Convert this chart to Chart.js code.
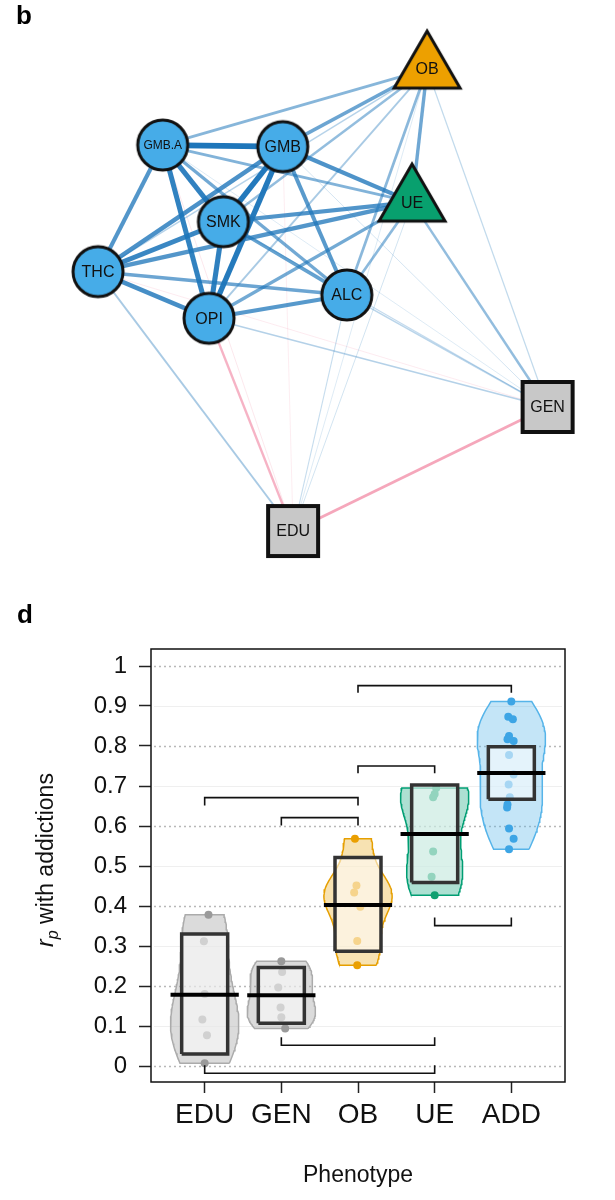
<!DOCTYPE html>
<html>
<head>
<meta charset="utf-8">
<title>Addiction network and correlations</title>
<script src="https://cdn.jsdelivr.net/npm/chart.js@4.4.1/dist/chart.umd.min.js"></script>
<style>
  body { margin: 0; background: #fff; font-family: "Liberation Sans", Arial, sans-serif; }
  #page { position: relative; width: 615px; height: 1200px; overflow: hidden; }
  canvas { position: absolute; left: 0; }
  #netChart { top: 0; }
  #boxChart { top: 580px; }
  .panel { position: absolute; font-weight: bold; font-size: 26px; line-height: 1; }
</style>
</head>
<body>
<div id="page">
  <canvas id="netChart" width="615" height="580"></canvas>
  <canvas id="boxChart" width="615" height="620"></canvas>
  <div class="panel" style="left:16px; top:2px">b</div>
  <div class="panel" style="left:17px; top:601px">d</div>
</div>
<script>
// ---- panel b: network (layout coordinates, -1..1) ----
const nodeNames = ["GMB.A", "GMB", "SMK", "THC", "OPI", "ALC", "OB", "UE", "GEN", "EDU"];
const nodeX = [-0.712, -0.178, -0.442, -1.000, -0.506, 0.107, 0.464, 0.397, 1.000, -0.132];
const nodeY = [0.671, 0.664, 0.339, 0.123, -0.079, 0.022, 1.000, 0.424, -0.463, -1.000];
const nodeGroup = ["ADD", "ADD", "ADD", "ADD", "ADD", "ADD", "OB", "UE", "GEN", "EDU"];

const edgeFrom = ["GMB.A", "GMB", "GMB", "SMK", "GMB.A", "GMB.A", "SMK", "THC", "GMB", "GMB.A",
  "OPI", "GMB", "SMK", "THC", "GMB.A",
  "GMB", "SMK", "THC", "OPI", "GMB.A", "ALC",
  "GMB", "GMB.A", "ALC", "SMK", "OPI", "THC", "OB",
  "UE", "OB", "OPI", "ALC", "SMK", "GMB", "GMB.A", "THC",
  "EDU", "OPI", "THC", "ALC", "GMB.A", "GMB", "UE", "OB"];
const edgeTo = ["GMB", "SMK", "OPI", "OPI", "SMK", "OPI", "THC", "OPI", "THC", "THC",
  "ALC", "ALC", "ALC", "ALC", "ALC",
  "UE", "UE", "UE", "UE", "UE", "UE",
  "OB", "OB", "OB", "OB", "OB", "OB", "UE",
  "GEN", "GEN", "GEN", "GEN", "GEN", "GEN", "GEN", "GEN",
  "GEN", "EDU", "EDU", "EDU", "EDU", "EDU", "EDU", "EDU"];
const edgeWeight = [0.911, 0.873, 0.867, 0.825, 0.817, 0.8125, 0.7775, 0.729, 0.704, 0.672,
  0.654, 0.646, 0.594, 0.568, 0.542,
  0.695, 0.68, 0.67, 0.535, 0.473, 0.427,
  0.568, 0.45, 0.435, 0.40, 0.31, 0.25, 0.55,
  0.40, 0.20, 0.26, 0.235, 0.195, 0.145, 0.12, -0.092,
  -0.45, -0.378, 0.31, 0.18, -0.115, -0.077, 0.15, 0.12];

// ---- panel d: correlations with addictions ----
const groups = ["EDU", "GEN", "OB", "UE", "ADD"];
const valuesEDU = [0.378, 0.312, 0.180, 0.116, 0.077, 0.007];
const valuesGEN = [0.262, 0.235, 0.196, 0.146, 0.122, 0.094];
const valuesOB = [0.568, 0.451, 0.434, 0.398, 0.3125, 0.252];
const valuesUE = [0.695, 0.680, 0.672, 0.536, 0.473, 0.427];
const valuesADD = [0.911, 0.873, 0.867, 0.825, 0.817, 0.8125, 0.7775, 0.729, 0.704, 0.672, 0.654, 0.646, 0.594, 0.568, 0.542];
const jitterEDU = [0.05, -0.01, 0.0, -0.03, 0.03, 0.0];
const jitterGEN = [0.0, 0.01, -0.04, -0.01, 0.0, 0.05];
const jitterOB = [-0.04, -0.02, -0.05, 0.03, -0.01, -0.01];
const jitterUE = [0.02, 0.0, -0.02, -0.02, -0.04, 0.0];
const jitterADD = [0.0, -0.04, 0.02, -0.03, -0.05, 0.03, -0.03, 0.03, -0.035, -0.02, -0.05, -0.055, -0.03, 0.03, -0.03];
const boxLow = [0.030, 0.107, 0.287, 0.459, 0.667];
const boxMid = [0.178, 0.177, 0.4025, 0.580, 0.7325];
const boxHigh = [0.330, 0.246, 0.521, 0.7025, 0.798];
const bracketLeft = [3, 3, 1, 2, 4, 2, 1];
const bracketRight = [5, 4, 3, 3, 5, 4, 4];
const bracketY = [0.951, 0.750, 0.671, 0.621, 0.351, 0.052, -0.018];
const bracketTip = [0.933, 0.732, 0.651, 0.601, 0.371, 0.072, 0.002];
const yTicks = [0, 0.1, 0.2, 0.3, 0.4, 0.5, 0.6, 0.7, 0.8, 0.9, 1];
const yTickLabels = ["0", "0.1", "0.2", "0.3", "0.4", "0.5", "0.6", "0.7", "0.8", "0.9", "1"];

const groupValues = [valuesEDU, valuesGEN, valuesOB, valuesUE, valuesADD];
const groupJitter = [jitterEDU, jitterGEN, jitterOB, jitterUE, jitterADD];

const FONT = '"Liberation Sans", Arial, sans-serif';
Chart.defaults.font.family = FONT;

// ---------- network ----------
const nodeFill = { ADD: "#46ACE8", OB: "#EDA000", UE: "#08A06E", GEN: "#C8C8C8", EDU: "#C8C8C8" };

function nodeCanvas(group) {
  const c = document.createElement("canvas");
  // size first: resizing a canvas resets its context state
  if (group === "ADD") { c.width = 58; c.height = 58; }
  else if (group === "OB" || group === "UE") { c.width = 78; c.height = 90; }
  else { c.width = 60; c.height = 60; }
  const g = c.getContext("2d");
  g.fillStyle = nodeFill[group];
  g.strokeStyle = "#111";
  if (group === "ADD") {
    g.beginPath();
    g.arc(29, 29, 25, 0, 2 * Math.PI);
    g.fill();
    g.lineWidth = 3;
    g.stroke();
  } else if (group === "OB" || group === "UE") {
    const cx = 39, cy = 45, w = 66, h = 57;
    g.beginPath();
    g.moveTo(cx, cy - 2 * h / 3);
    g.lineTo(cx + w / 2, cy + h / 3);
    g.lineTo(cx - w / 2, cy + h / 3);
    g.closePath();
    g.fill();
    g.lineJoin = "miter";
    g.lineWidth = 3;
    g.stroke();
  } else {
    g.fillRect(5, 5, 50, 50);
    g.lineWidth = 4;
    g.strokeRect(5, 5, 50, 50);
  }
  return c;
}

const netDatasets = [{
  data: nodeX.map((x, i) => ({ x, y: nodeY[i] })),
  showLine: false,
  pointStyle: nodeGroup.map(nodeCanvas),
  pointRadius: 20,
  order: 0
}];

edgeWeight.forEach((w, i) => {
  const a = nodeNames.indexOf(edgeFrom[i]);
  const b = nodeNames.indexOf(edgeTo[i]);
  const abs = Math.abs(w);
  const alpha = Math.min(1, abs * 1.05 + 0.06);
  const rgb = w > 0 ? "30,118,186" : "236,90,128";
  netDatasets.push({
    data: [{ x: nodeX[a], y: nodeY[a] }, { x: nodeX[b], y: nodeY[b] }],
    borderColor: `rgba(${rgb},${alpha})`,
    borderWidth: Math.max(0.8, 6.2 * abs),
    pointRadius: 0,
    order: 100 - Math.round(abs * 100)
  });
});

const nodeLabels = {
  id: "nodeLabels",
  afterDatasetsDraw(chart) {
    const { ctx, scales: { x, y } } = chart;
    ctx.save();
    ctx.textAlign = "center";
    ctx.textBaseline = "middle";
    ctx.fillStyle = "#111";
    nodeNames.forEach((name, i) => {
      ctx.font = (name.length > 4 ? "12px " : "16px ") + FONT;
      ctx.fillText(name, x.getPixelForValue(nodeX[i]), y.getPixelForValue(nodeY[i]) + 1);
    });
    ctx.restore();
  }
};

new Chart(document.getElementById("netChart"), {
  type: "line",
  data: { datasets: netDatasets },
  options: {
    responsive: false,
    animation: false,
    layout: { padding: 0, autoPadding: false },
    plugins: { legend: { display: false }, tooltip: { enabled: false } },
    scales: {
      x: { type: "linear", display: false, min: -1.436, max: 1.300 },
      y: { type: "linear", display: false, min: -1.212, max: 1.299 }
    }
  },
  plugins: [nodeLabels]
});

// ---------- violin / box plot ----------
const violinFill = ["rgba(160,160,160,0.38)", "rgba(160,160,160,0.38)", "rgba(230,159,0,0.3)", "rgba(0,158,115,0.32)", "rgba(86,180,233,0.35)"];
const violinLine = ["#ABABAB", "#ABABAB", "#E69F00", "#009E73", "#56B4E9"];
const pointColor = ["#9A9A9A", "#9A9A9A", "#EA9F00", "#10A070", "#3DA5E5"];
const violinHalf = 0.445, boxHalf = 0.3, medianHalf = 0.445;

function quantile(sorted, p) {
  const h = (sorted.length - 1) * p;
  const lo = Math.floor(h);
  const hi = Math.min(lo + 1, sorted.length - 1);
  return sorted[lo] + (h - lo) * (sorted[hi] - sorted[lo]);
}

// bandwidth as R's bw.nrd0
function bandwidth(vals) {
  const s = [...vals].sort((a, b) => a - b);
  const n = vals.length;
  const mean = vals.reduce((a, b) => a + b, 0) / n;
  const sd = Math.sqrt(vals.reduce((a, b) => a + (b - mean) ** 2, 0) / (n - 1));
  const iqr = quantile(s, 0.75) - quantile(s, 0.25);
  return 0.9 * Math.min(sd, iqr / 1.34) * Math.pow(n, -0.2);
}

function violinOutline(vals, center) {
  const bw = bandwidth(vals);
  const lo = Math.min(...vals), hi = Math.max(...vals);
  const ys = [], ds = [];
  for (let i = 0; i <= 60; i++) {
    const y = lo + (hi - lo) * i / 60;
    let d = 0;
    vals.forEach(v => { d += Math.exp(-0.5 * ((y - v) / bw) ** 2); });
    ys.push(y);
    ds.push(d);
  }
  const dMax = Math.max(...ds);
  const right = ys.map((y, i) => ({ x: center + violinHalf * ds[i] / dMax, y }));
  const left = ys.map((y, i) => ({ x: center - violinHalf * ds[i] / dMax, y })).reverse();
  return [...right, ...left, right[0]];
}

const boxDatasets = [];
groups.forEach((g, i) => {
  const c = i + 1;
  boxDatasets.push({
    data: violinOutline(groupValues[i], c),
    fill: "shape",
    backgroundColor: violinFill[i],
    borderColor: violinLine[i],
    borderWidth: 1.5,
    pointRadius: 0,
    order: 50
  });
  boxDatasets.push({
    data: groupValues[i].map((v, k) => ({ x: c + groupJitter[i][k], y: v })),
    showLine: false,
    pointRadius: 4,
    pointBorderWidth: 0,
    pointBackgroundColor: pointColor[i],
    order: 40
  });
  boxDatasets.push({
    data: [
      { x: c - boxHalf, y: boxLow[i] }, { x: c + boxHalf, y: boxLow[i] },
      { x: c + boxHalf, y: boxHigh[i] }, { x: c - boxHalf, y: boxHigh[i] },
      { x: c - boxHalf, y: boxLow[i] }
    ],
    fill: "shape",
    backgroundColor: "rgba(255,255,255,0.55)",
    borderColor: "#333",
    borderWidth: 3.5,
    borderJoinStyle: "miter",
    pointRadius: 0,
    order: 30
  });
  boxDatasets.push({
    data: [{ x: c - medianHalf, y: boxMid[i] }, { x: c + medianHalf, y: boxMid[i] }],
    borderColor: "#000",
    borderWidth: 4,
    pointRadius: 0,
    order: 20
  });
});

bracketY.forEach((y, i) => {
  boxDatasets.push({
    data: [
      { x: bracketLeft[i], y: bracketTip[i] }, { x: bracketLeft[i], y },
      { x: bracketRight[i], y }, { x: bracketRight[i], y: bracketTip[i] }
    ],
    borderColor: "#111",
    borderWidth: 1.6,
    pointRadius: 0,
    order: 10
  });
});

const boxFrame = {
  id: "boxFrame",
  beforeDatasetsDraw(chart) {
    const { ctx, chartArea: a, scales: { y } } = chart;
    ctx.save();
    yTicks.forEach((v, i) => {
      const py = Math.round(y.getPixelForValue(v)) + 0.5;
      ctx.beginPath();
      if (i % 2 === 0) {
        ctx.setLineDash([2, 3]); ctx.strokeStyle = "#b8b8b8"; ctx.lineWidth = 1.3;
      } else {
        ctx.setLineDash([]); ctx.strokeStyle = "#efefef"; ctx.lineWidth = 1;
      }
      ctx.moveTo(a.left + 3, py);
      ctx.lineTo(a.right - 3, py);
      ctx.stroke();
    });
    ctx.restore();
  },
  afterDatasetsDraw(chart) {
    const { ctx, chartArea: a } = chart;
    ctx.save();
    ctx.strokeStyle = "#111";
    ctx.lineWidth = 1.5;
    ctx.strokeRect(a.left, a.top, a.right - a.left, a.bottom - a.top);

    ctx.fillStyle = "#111";
    ctx.textAlign = "center";
    ctx.textBaseline = "alphabetic";
    ctx.font = "23px " + FONT;
    ctx.fillText("Phenotype", (a.left + a.right) / 2, 602);

    // y title: r_p with addictions
    const main = "23px " + FONT, ital = "italic 23px " + FONT, sub = "italic 16px " + FONT;
    ctx.font = ital; const wr = ctx.measureText("r").width;
    ctx.font = sub; const wp = ctx.measureText("p").width;
    ctx.font = main; const wt = ctx.measureText(" with addictions").width;
    const total = wr + wp + wt;
    ctx.translate(53, 280);
    ctx.rotate(-Math.PI / 2);
    ctx.textAlign = "left";
    let x0 = -total / 2;
    ctx.font = ital; ctx.fillText("r", x0, 0); x0 += wr;
    ctx.font = sub; ctx.fillText("p", x0, 5); x0 += wp;
    ctx.font = main; ctx.fillText(" with addictions", x0, 0);
    ctx.restore();
  }
};

new Chart(document.getElementById("boxChart"), {
  type: "line",
  data: { datasets: boxDatasets },
  options: {
    responsive: false,
    animation: false,
    layout: { padding: { left: 0, right: 50, top: 69, bottom: 0 } },
    plugins: { legend: { display: false }, tooltip: { enabled: false } },
    scales: {
      x: {
        type: "linear", min: 0.3, max: 5.7,
        afterBuildTicks: s => { s.ticks = groups.map((g, i) => ({ value: i + 1 })); },
        afterFit: s => { s.height = 118; },
        grid: { drawOnChartArea: false, tickLength: 11, tickColor: "#222", tickWidth: 1.5 },
        border: { display: false },
        ticks: { autoSkip: false, maxRotation: 0, padding: 5, color: "#111", font: { size: 28 }, callback: (v, i) => groups[i] }
      },
      y: {
        type: "linear", min: -0.04, max: 1.0425,
        afterBuildTicks: s => { s.ticks = yTicks.map(v => ({ value: v })); },
        afterFit: s => { s.width = 151; },
        grid: { drawOnChartArea: false, tickLength: 12, tickColor: "#222", tickWidth: 1.5 },
        border: { display: false },
        ticks: { padding: 12, color: "#111", font: { size: 24 }, callback: (v, i) => yTickLabels[i] }
      }
    }
  },
  plugins: [boxFrame]
});
</script>
</body>
</html>
